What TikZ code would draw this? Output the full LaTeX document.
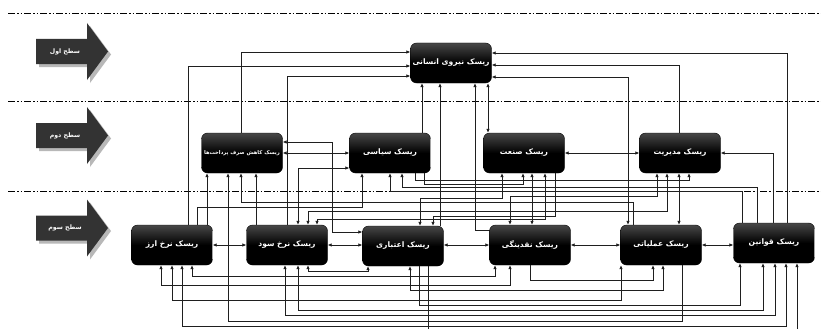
\documentclass[tikz,border=0pt]{standalone}
\usepackage{fontspec}
\usetikzlibrary{arrows.meta,calc}
\newfontfamily\farsifont[Script=Arabic]{DejaVu Sans}
\TeXXeTstate=1
\newcommand{\lvlarrow}[3]{%
  \fill[black!28] (39,#1-9.5) -- (90,#1-9.5) -- (90,#1-25.5) -- (111,#1+3) -- (90,#1+31.5) -- (90,#1+15.5) -- (39,#1+15.5) -- cycle;
  \fill[black!80] (36,#1-12.5) -- (87,#1-12.5) -- (87,#1-28.5) -- (108,#1) -- (87,#1+28.5) -- (87,#1+12.5) -- (36,#1+12.5) -- cycle;
  \node[lvltxt] (#3) at (65,#1) {#2};}
\tikzset{
  riskbox/.style={draw=black, rounded corners=6pt, top color=black!72, bottom color=black, middle color=black,
    minimum width=81pt, minimum height=40pt, inner sep=0pt, text=white,
    font=\farsifont\bfseries\fontsize{7.6}{9}\selectfont},
  lvltxt/.style={text=white, font=\farsifont\bfseries\fontsize{6.2}{7}\selectfont, inner sep=0pt},
  sep/.style={line width=0.9pt, dash pattern=on 7pt off 2pt on 1.5pt off 2pt on 1.5pt off 2pt},
  ln/.style={line width=0.8pt, black!88},
  ar/.style={ln, -{Latex[length=4pt,width=3.6pt]}},
  dar/.style={ln, {Latex[length=4pt,width=3.6pt]}-{Latex[length=4pt,width=3.6pt]}}
}
\begin{document}
\begin{tikzpicture}[x=1pt,y=-1pt]
\useasboundingbox (0,0) rectangle (821,329);
\fill[white] (0,0) rectangle (821,329);
% level separators
\draw[sep] (8,13) -- (821,13);
\draw[sep] (8,101) -- (821,101);
\draw[sep] (8,191) -- (821,191);
% level arrows
\lvlarrow{51.5}{\beginR سطح اول\endR}{lv1}
\lvlarrow{135.5}{\beginR سطح دوم\endR}{lv2}
\lvlarrow{228}{\beginR سطح سوم\endR}{lv3}
% boxes
\node[riskbox] (T) at (451,63) {\beginR ریسک نیروی انسانی\endR};
\node[riskbox, font=\farsifont\bfseries\fontsize{5.2}{6}\selectfont] (K) at (242,153) {\beginR ریسک کاهش صرف پرداخت‌ها\endR};
\node[riskbox] (S) at (390,153) {\beginR ریسک سیاسی\endR};
\node[riskbox] (N) at (524,153) {\beginR ریسک صنعت\endR};
\node[riskbox] (M) at (680,153) {\beginR ریسک مدیریت\endR};
\node[riskbox] (A) at (172,245) {\beginR ریسک نرخ ارز\endR};
\node[riskbox] (O) at (287,245) {\beginR ریسک نرخ سود\endR};
\node[riskbox] (E) at (403,246) {\beginR ریسک اعتباری\endR};
\node[riskbox] (Q) at (530,245) {\beginR ریسک نقدینگی\endR};
\node[riskbox] (U) at (661,245) {\beginR ریسک عملیاتی\endR};
\node[riskbox] (L) at (774,243) {\beginR ریسک قوانین\endR};
\coordinate (bot) at (797,329);
% to top box
\draw[ar] ([xshift=-1pt]K.north) |- ([yshift=11pt]T.west);
\draw[ar] ([xshift=16pt]A.north) |- ([yshift=-3pt]T.west);
\draw[ar] (O.north) |- ([yshift=-13pt]T.west);
\draw[ar] ([xshift=32pt]S.north) -- ([xshift=-29pt]T.south);
\draw[ar] ([xshift=37pt]E.north) -- ([xshift=-11pt]T.south);
\draw[ar] ([yshift=15pt]Q.west) -| ([xshift=24pt]T.south);
\draw[dar] ([xshift=37pt]T.south) -- ([xshift=-36pt]N.north);
\draw[ar] ([xshift=13pt]L.north) |- ([yshift=10pt]T.east);
\draw[ar] ([xshift=-1pt]M.north) |- ([yshift=-2pt]T.east);
\draw[dar] ([xshift=-33pt]U.north) |- ([yshift=-14pt]T.east);
% level 2
\draw[dar] (K.east) -- (S.west);
\draw[dar] (N.east) -- (M.west);
\draw[ar] ([xshift=-1pt]L.north) |- (M.east);
\draw[dar] ([yshift=11pt]K.east) -- ++(50,0) |- ([yshift=14pt]E.west);
\draw[dar] ([yshift=-15pt]S.west) -| ([xshift=11pt]O.north);
% middle band
\draw[ar] ([xshift=35pt]A.north) -- ([xshift=-35pt]K.south);
\draw[ar] ([xshift=-31pt]O.north) -- ([xshift=14pt]K.south);
\draw[ar] ([xshift=25pt]A.north) -- ++(0,-17) -| ([xshift=-28pt]S.south);
\draw[ar] ([xshift=-28pt]U.north) -- ++(0,-22) -| ([xshift=-1pt]K.south);
\draw[ar] ([xshift=25pt]S.south) -- ++(0,7) -| ([xshift=9pt]M.south);
\draw[ar] ([xshift=34pt]S.south) -- ++(0,11) -| ([xshift=-1pt]N.south);
\draw[ar] ([xshift=-17pt]L.north) -- ++(0,-35) -| ([xshift=12pt]S.south);
\draw[ar] ([xshift=-32pt]L.north) -- ++(0,-31) -| (S.south);
\draw[dar] ([xshift=-23pt]M.south) -- ++(0,23) -| ([xshift=-20pt]Q.north);
\draw[dar] ([xshift=17pt]E.north) -- ++(0,-27) -| ([xshift=-22pt]N.south);
\draw[dar] ([xshift=21pt]O.north) -- ++(0,-13) -| ([xshift=-13pt]M.south);
\draw[ar] ([xshift=31pt]N.south) -- ++(0,43) -| ([xshift=30pt]E.north);
\draw[dar] ([xshift=30pt]O.north) -- ++(0,-5) -| ([xshift=21pt]N.south);
\draw[dar] ([xshift=8pt]N.south) -- ([xshift=2pt]Q.north);
\draw[dar] ([xshift=18pt]U.north) -- ([xshift=-1pt]M.south);
% level 3 neighbours
\draw[dar] (A.east) -- (O.west);
\draw[dar] (O.east) -- (O.east -| E.west);
\draw[dar] (Q.west -| E.east) -- (Q.west);
\draw[dar] (Q.east) -- (U.west);
\draw[dar] (U.east) -- (U.east -| L.west);
% bottom band
\draw[dar] ([xshift=21pt]O.south) -- ++(0,6) -| ([xshift=-35pt]E.south);
\draw[dar] ([xshift=20pt]A.south) -- ++(0,11) -| ([xshift=-35pt]Q.south);
\draw[ar] (Q.south) -- ++(0,15) -| ([xshift=-8pt]U.south);
\draw[dar] ([xshift=-11pt]A.south) -- ++(0,20) -| ([xshift=-20pt]Q.south);
\draw[dar] ([xshift=7pt]E.south) -- ++(0,24) -| ([xshift=2pt]U.south);
\draw[dar] (A.south) -- ++(0,35) -| ([xshift=-40pt]U.south);
\draw[ar] ([xshift=16pt]E.south) -- ++(0,39) -| ([xshift=-34pt]L.south);
\draw[dar] ([xshift=11pt]O.south) -- ++(0,45) -| ([xshift=-11pt]L.south);
\draw[dar] ([xshift=-2pt]O.south) -- ++(0,50) -| ([xshift=1pt]L.south);
\draw[ar] ([xshift=21pt]U.south) -- ++(0,56) -| ([xshift=-14pt]K.south);
\draw[dar] ([xshift=10pt]A.south) -- ++(0,61) -| ([xshift=12pt]L.south);
\draw[ln] ([xshift=25pt]E.south) -- ++(0,63);
\draw[ar] (bot) -- ([xshift=23pt]L.south);
\end{tikzpicture}
\end{document}
